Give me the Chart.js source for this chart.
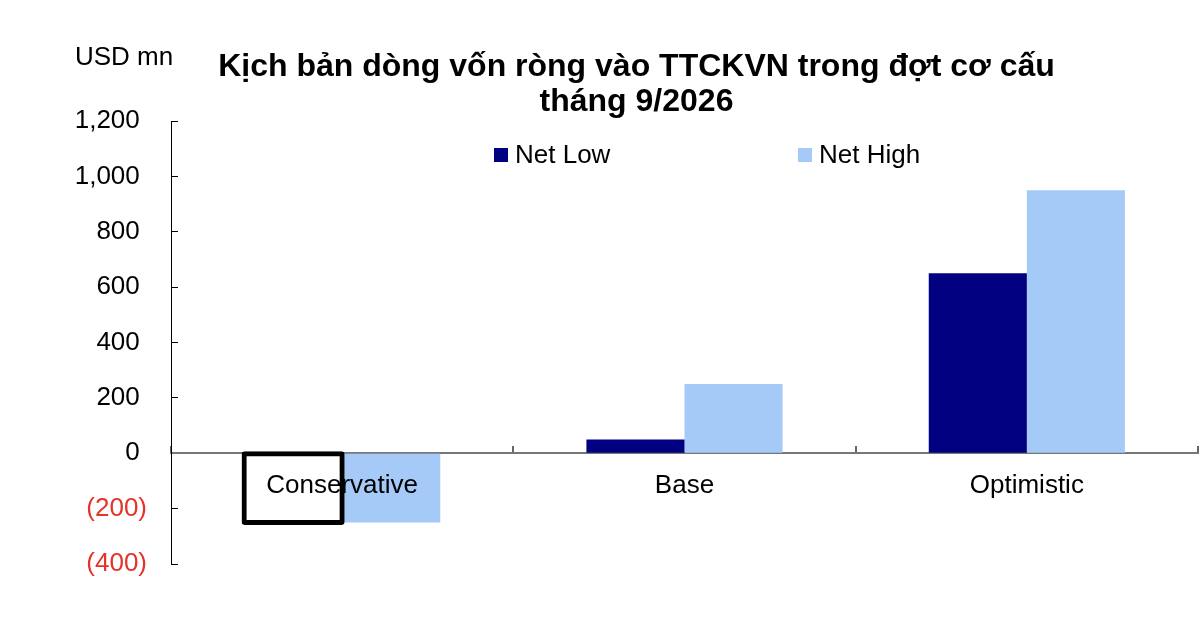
<!DOCTYPE html>
<html>
<head>
<meta charset="utf-8">
<script src="https://cdn.jsdelivr.net/npm/chart.js@4/dist/chart.umd.min.js"></script>
<style>
  html, body { margin: 0; padding: 0; background: #fff; }
  #wrap { width: 1200px; height: 630px; position: relative; }
</style>
</head>
<body>
<div id="wrap"><canvas id="c" width="1200" height="630"></canvas></div>
<script>
const categories = ['Conservative', 'Base', 'Optimistic'];
const netLow = [-250, 50, 650];
const netHigh = [-250, 250, 950];
const seriesNames = ['Net Low', 'Net High'];
const titleLines = ['Kịch bản dòng vốn ròng vào TTCKVN trong đợt cơ cấu', 'tháng 9/2026'];
const unitLabel = 'USD mn';
const yMin = -400, yMax = 1200, yStep = 200;

const FONT = '"Liberation Sans", Arial, sans-serif';
const NAVY = '#000080';
const LIGHT = '#A6CAF8';
const RED = '#E5322A';

function fmt(v) {
  return Math.abs(v).toLocaleString('en-US');
}

const overlayPlugin = {
  id: 'overlay',
  afterDraw(chart) {
    const ctx = chart.ctx;
    ctx.save();
    ctx.font = '26px ' + FONT;
    ctx.fillStyle = '#000';
    ctx.textBaseline = 'middle';
    ctx.textAlign = 'left';
    ctx.fillText(unitLabel, 75, 58);
    const xs = [494, 798];
    chart.data.datasets.forEach((ds, i) => {
      const x = xs[i];
      const y = 155;
      ctx.fillStyle = ds.legendColor;
      ctx.fillRect(x, y - 7, 14, 14);
      ctx.fillStyle = '#000';
      ctx.fillText(ds.label, x + 21, y + 1);
    });
    ctx.restore();
  }
};

new Chart(document.getElementById('c'), {
  type: 'bar',
  data: {
    labels: categories,
    datasets: [
      {
        label: seriesNames[0],
        data: netLow,
        legendColor: NAVY,
        backgroundColor: ['#FFFFFF', NAVY, NAVY],
        borderColor: ['#000000', NAVY, NAVY],
        borderWidth: [5, 0, 0],
        borderRadius: [3, 0, 0],
        inflateAmount: [2.5, 'auto', 'auto'],
        borderSkipped: false
      },
      {
        label: seriesNames[1],
        data: netHigh,
        legendColor: LIGHT,
        backgroundColor: LIGHT,
        borderWidth: 0
      }
    ]
  },
  options: {
    responsive: false,
    animation: false,
    devicePixelRatio: 1,
    categoryPercentage: 0.573,
    barPercentage: 1,
    layout: { padding: { left: 75, right: 2, top: 50, bottom: 66 } },
    plugins: {
      legend: { display: false },
      tooltip: { enabled: false },
      title: {
        display: true,
        text: titleLines,
        color: '#000',
        font: { family: FONT, size: 32, weight: 'bold', lineHeight: 1.094 },
        padding: { top: 0, bottom: 1 }
      }
    },
    scales: {
      x: {
        position: { y: 0 },
        afterFit(scale) { scale.paddingLeft = 0; scale.paddingRight = 0; },
        grid: {
          drawOnChartArea: false,
          drawTicks: true,
          tickLength: -8,
          color: '#666',
          lineWidth: 2,
          offset: true,
          z: 0
        },
        border: { display: true, color: '#777', width: 2, z: 0 },
        ticks: {
          z: 1,
          color: '#000',
          font: { family: FONT, size: 26 },
          padding: 25,
          maxRotation: 0,
          autoSkip: false
        }
      },
      y: {
        min: yMin,
        max: yMax,
        afterFit(scale) { scale.width = 96; },
        grid: {
          drawOnChartArea: false,
          drawTicks: true,
          tickLength: -7,
          color: '#000',
          lineWidth: 1
        },
        border: { display: true, color: '#000', width: 1 },
        ticks: {
          stepSize: yStep,
          padding: 31,
          font: { family: FONT, size: 26 },
          color: (c) => (c.tick && c.tick.value < 0 ? RED : '#000'),
          callback: (v) => (v < 0 ? '(' + fmt(v) + ')' : fmt(v) + ' ')
        }
      }
    }
  },
  plugins: [overlayPlugin]
});
</script>
</body>
</html>
